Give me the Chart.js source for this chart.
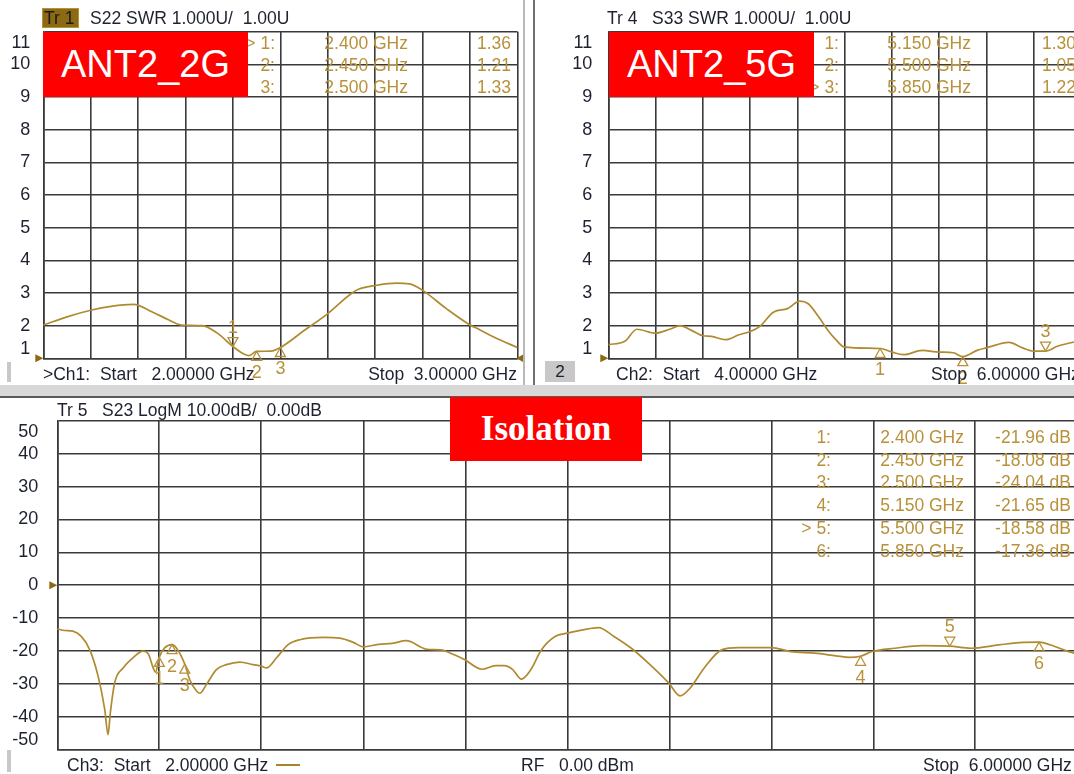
<!DOCTYPE html>
<html>
<head>
<meta charset="utf-8">
<script src="https://cdn.jsdelivr.net/npm/chart.js@4.4.1/dist/chart.umd.min.js"></script>
<style>
html, body { margin: 0; padding: 0; background: #fff; overflow: hidden; width: 1074px; height: 774px; font-family: Arial, "Liberation Sans", sans-serif; }
.abs { position: absolute; }
.gold { color: #b8913a; }
.txt { position: absolute; font-size: 17.5px; line-height: 20px; white-space: nowrap; color: #1e2230; }
.tbl { position: absolute; font-size: 17.5px; line-height: 20px; white-space: nowrap; color: #b8913a; text-align: right; }
.red { position: absolute; background: #ff0000; color: #fff; text-align: center; }
</style>
</head>
<body>
<div class="abs" style="left:0;top:0;width:530px;height:390px"><canvas id="c1"></canvas></div>
<div class="abs" style="left:530px;top:0;width:560px;height:390px"><canvas id="c2"></canvas></div>
<div class="abs" style="left:0;top:390px;width:1090px;height:384px"><canvas id="c3"></canvas></div>

<!-- window frame bits -->
<div class="abs" style="left:523px;top:0;width:2px;height:386px;background:#b8b8b8"></div>
<div class="abs" style="left:533px;top:0;width:2px;height:386px;background:#707070"></div>
<div class="abs" style="left:0;top:385px;width:1074px;height:11px;background:#d8d8d8"></div>
<div class="abs" style="left:0;top:396px;width:1074px;height:2px;background:#5a5a5a"></div>
<div class="abs" style="left:7px;top:362px;width:4px;height:20px;background:#c8c8c8"></div>
<div class="abs" style="left:7px;top:750px;width:4px;height:22px;background:#c8c8c8"></div>
<div class="abs" style="left:545px;top:361px;width:30px;height:21px;background:#c8c8c8;font-size:17px;line-height:21px;text-align:center;color:#1e2230">2</div>

<!-- headers -->
<div class="abs" style="left:42px;top:8px;width:37px;height:20px;background:#8c6a14;border:1px solid #b8913a;box-sizing:border-box"></div>
<div class="txt" style="left:44px;top:8px;color:#1a1a1a">Tr 1</div>
<div class="txt gold" style="left:90px;top:8px">S22 SWR 1.000U/&nbsp; 1.00U</div>
<div class="txt gold" style="left:607px;top:8px">Tr 4&nbsp;&nbsp; S33 SWR 1.000U/&nbsp; 1.00U</div>
<div class="txt gold" style="left:57px;top:400px">Tr 5&nbsp;&nbsp; S23 LogM 10.00dB/&nbsp; 0.00dB</div>

<!-- status lines -->
<div class="txt" style="left:43px;top:364px">&gt;Ch1:&nbsp; Start&nbsp;&nbsp; 2.00000 GHz</div>
<div class="txt" style="left:357px;top:364px;width:160px;text-align:right">Stop&nbsp; 3.00000 GHz</div>
<div class="txt" style="left:616px;top:364px">Ch2:&nbsp; Start&nbsp;&nbsp; 4.00000 GHz</div>
<div class="txt" style="left:931px;top:364px">Stop&nbsp; 6.00000 GHz</div>
<div class="txt" style="left:67px;top:755px">Ch3:&nbsp; Start&nbsp;&nbsp; 2.00000 GHz</div>
<div class="abs" style="left:276px;top:764px;width:24px;height:2px;background:#a8832c"></div>
<div class="txt" style="left:521px;top:755px">RF&nbsp;&nbsp; 0.00 dBm</div>
<div class="txt" style="left:923px;top:755px">Stop&nbsp; 6.00000 GHz</div>

<div id="tables"></div>

<!-- labels -->
<div class="red" style="left:43px;top:32px;width:205px;height:65px;font-size:38px;line-height:65px">ANT2_2G</div>
<div class="red" style="left:609px;top:32px;width:205px;height:65px;font-size:38px;line-height:65px">ANT2_5G</div>
<div class="red" style="left:450px;top:397px;width:192px;height:64px;font-size:35px;line-height:64px;font-weight:bold;font-family:'Liberation Serif','Times New Roman',serif">Isolation</div>

<script>
// S22 SWR, ANT2 2.4G band
var ant2gFreq = [2.00, 2.05, 2.10, 2.143, 2.19, 2.23, 2.265, 2.29, 2.335, 2.367, 2.40, 2.423, 2.433, 2.45, 2.48, 2.50, 2.55, 2.60, 2.651, 2.666, 2.70, 2.745, 2.772, 2.80, 2.85, 2.90, 2.921, 2.95, 3.00];
var ant2gSwr  = [2.02, 2.27, 2.47, 2.59, 2.65, 2.42, 2.17, 2.02, 2.00, 1.77, 1.36, 1.13, 1.08, 1.21, 1.22, 1.33, 1.85, 2.37, 3.00, 3.12, 3.23, 3.30, 3.28, 3.08, 2.52, 2.02, 1.87, 1.65, 1.33];
var ant2gMarkFreq = [2.400, 2.450, 2.500];
var ant2gMarkVal  = [1.36, 1.21, 1.33];

// S33 SWR, ANT2 5G band
var ant5gFreq = [4.00, 4.07, 4.121, 4.20, 4.26, 4.304, 4.348, 4.40, 4.436, 4.495, 4.553, 4.60, 4.64, 4.70, 4.758, 4.81, 4.846, 4.89, 4.933, 4.963, 5.00, 5.15, 5.20, 5.248, 5.328, 5.40, 5.46, 5.50, 5.563, 5.60, 5.695, 5.753, 5.80, 5.85, 5.90, 5.97, 6.00];
var ant5gSwr  = [1.42, 1.52, 1.89, 1.77, 1.89, 2.00, 1.87, 1.69, 1.67, 1.57, 1.72, 1.82, 1.97, 2.42, 2.52, 2.75, 2.67, 2.27, 1.82, 1.57, 1.34, 1.30, 1.19, 1.11, 1.24, 1.19, 1.17, 1.05, 1.25, 1.32, 1.49, 1.32, 1.22, 1.22, 1.37, 1.50, 1.55];
var ant5gMarkFreq = [5.150, 5.500, 5.850];
var ant5gMarkVal  = [1.30, 1.05, 1.22];

// S23 LogM isolation
var isoFreq = [2.00, 2.029, 2.061, 2.094, 2.127, 2.16, 2.186, 2.199, 2.208, 2.225, 2.258, 2.297, 2.336, 2.356, 2.376, 2.385, 2.40, 2.421, 2.45, 2.467, 2.50, 2.519, 2.546, 2.559, 2.585, 2.624, 2.663, 2.716, 2.768, 2.80, 2.82, 2.86, 2.905, 2.951, 3.043, 3.108, 3.161, 3.20, 3.259, 3.314, 3.368, 3.449, 3.503, 3.557, 3.60, 3.665, 3.719, 3.753, 3.786, 3.82, 3.857, 3.898, 3.952, 4.00, 4.061, 4.122, 4.183, 4.251, 4.319, 4.398, 4.442, 4.482, 4.537, 4.605, 4.672, 4.80, 4.876, 4.971, 5.053, 5.107, 5.15, 5.196, 5.284, 5.393, 5.50, 5.583, 5.692, 5.787, 5.85, 5.895, 5.988, 6.00];
var isoDb   = [-13.3, -13.8, -14.0, -15.6, -19.6, -27.7, -37.8, -45.5, -38.8, -29.7, -25.2, -22.1, -20.1, -20.8, -25.2, -26.5, -21.96, -19.1, -18.08, -19.1, -24.04, -28.7, -32.2, -32.9, -30.2, -25.7, -24.2, -23.4, -24.2, -24.6, -25.2, -22.1, -18.1, -16.6, -15.9, -16.1, -17.4, -18.8, -18.0, -17.7, -16.9, -19.5, -19.7, -21.2, -22.8, -25.6, -24.5, -24.5, -25.7, -28.6, -25.7, -19.7, -15.6, -14.6, -13.6, -12.9, -15.6, -19.2, -23.8, -29.8, -33.7, -31.3, -25.2, -19.7, -19.0, -19.0, -20.2, -20.7, -21.5, -22.0, -21.65, -20.2, -19.2, -18.4, -18.58, -19.2, -18.2, -17.4, -17.36, -18.2, -20.7, -20.8];
var isoMarkFreq = [2.400, 2.450, 2.500, 5.150, 5.500, 5.850];
var isoMarkVal  = [-21.96, -18.08, -24.04, -21.65, -18.58, -17.36];

var TRACE = '#b08a30';
var GOLD = '#b8913a';
var GRID = '#3a3a3a';

var vnaPlugin = {
  id: 'vna',
  afterDraw: function (chart, args, o) {
    var ctx = chart.ctx, xs = chart.scales.x, ys = chart.scales.y, a = chart.chartArea;
    ctx.save();
    // y axis numbers (end ones pulled inside like the analyser does)
    ctx.fillStyle = '#1e2230';
    ctx.font = '18px Arial, "Liberation Sans", sans-serif';
    ctx.textAlign = 'right';
    ctx.textBaseline = 'middle';
    ys.ticks.forEach(function (t) {
      var y = ys.getPixelForValue(t.value);
      if (t.value === ys.max) y += 11;
      if (t.value === ys.min) y -= 9;
      ctx.fillText(String(t.value), a.left - o.gap, y);
    });
    // reference arrows
    var ry = ys.getPixelForValue(o.ref);
    ctx.fillStyle = '#8c6a14';
    ctx.beginPath();
    ctx.moveTo(a.left, ry); ctx.lineTo(a.left - 8, ry - 4); ctx.lineTo(a.left - 8, ry + 4); ctx.closePath(); ctx.fill();
    if (o.rightArrow) {
      ctx.beginPath();
      ctx.moveTo(a.right - 1, ry); ctx.lineTo(a.right + 6, ry - 4); ctx.lineTo(a.right + 6, ry + 4); ctx.closePath(); ctx.fill();
    }
    // markers
    ctx.strokeStyle = GOLD;
    ctx.lineWidth = 1.3;
    ctx.textAlign = 'center';
    o.markFreq.forEach(function (f, i) {
      var x = xs.getPixelForValue(f), y = ys.getPixelForValue(o.markVal[i]);
      var down = (i === o.active);
      ctx.beginPath();
      if (down) { ctx.moveTo(x, y); ctx.lineTo(x - 5, y - 9); ctx.lineTo(x + 5, y - 9); }
      else { ctx.moveTo(x, y); ctx.lineTo(x - 5, y + 9); ctx.lineTo(x + 5, y + 9); }
      ctx.closePath();
      ctx.stroke();
      ctx.fillStyle = GOLD;
      ctx.fillText(String(i + 1), x, down ? y - 19 : y + 22);
    });
    ctx.restore();
  }
};

function makeChart(id, freq, vals, xmin, xmax, xstep, ymin, ymax, ystep, pad, deco) {
  var pts = freq.map(function (f, i) { return { x: f, y: vals[i] }; });
  return new Chart(document.getElementById(id).getContext('2d'), {
    type: 'line',
    data: { datasets: [{ data: pts, borderColor: TRACE, borderWidth: 1.7, pointRadius: 0, cubicInterpolationMode: 'monotone', fill: false }] },
    options: {
      responsive: true,
      maintainAspectRatio: false,
      animation: false,
      layout: { padding: pad },
      plugins: { legend: { display: false }, tooltip: { enabled: false }, vna: deco },
      scales: {
        x: { type: 'linear', min: xmin, max: xmax, ticks: { display: false, stepSize: xstep },
             grid: { color: GRID, lineWidth: 1.6, drawTicks: false }, border: { color: GRID, width: 1.6 } },
        y: { type: 'linear', min: ymin, max: ymax, ticks: { display: false, stepSize: ystep },
             grid: { color: GRID, lineWidth: 1.6, drawTicks: false }, border: { color: GRID, width: 1.6 } }
      }
    },
    plugins: [vnaPlugin]
  });
}

makeChart('c1', ant2gFreq, ant2gSwr, 2, 3, 0.1, 1, 11, 1,
  { left: 43.3, top: 31.7, right: 12.5, bottom: 31.7 },
  { gap: 13, ref: 1, rightArrow: true, markFreq: ant2gMarkFreq, markVal: ant2gMarkVal, active: 0 });
makeChart('c2', ant5gFreq, ant5gSwr, 4, 6, 0.2, 1, 11, 1,
  { left: 78.3, top: 31.7, right: 9, bottom: 31.7 },
  { gap: 16, ref: 1, rightArrow: false, markFreq: ant5gMarkFreq, markVal: ant5gMarkVal, active: 2 });
makeChart('c3', isoFreq, isoDb, 2, 6, 0.4, -50, 50, 10,
  { left: 57.3, top: 31, right: 12.7, bottom: 24.6 },
  { gap: 19, ref: 0, rightArrow: false, markFreq: isoMarkFreq, markVal: isoMarkVal, active: 4 });

// marker tables, built from the marker arrays
function table(markFreq, markVal, unit, active, top, xNum, xFreq, xVal, rowH) {
  var html = '';
  markFreq.forEach(function (f, i) {
    var y = top + i * rowH - 10;
    html += '<div class="tbl" style="left:' + (xNum - 60) + 'px;top:' + y + 'px;width:60px">' + (i === active ? '&gt; ' : '') + (i + 1) + ':</div>';
    html += '<div class="tbl" style="left:' + (xFreq - 120) + 'px;top:' + y + 'px;width:120px">' + f.toFixed(3) + ' GHz</div>';
    html += '<div class="tbl" style="left:' + (xVal - 120) + 'px;top:' + y + 'px;width:120px">' + markVal[i].toFixed(2) + unit + '</div>';
  });
  return html;
}
document.getElementById('tables').innerHTML =
  table(ant2gMarkFreq, ant2gMarkVal, '', 0, 43, 275, 408, 511, 22) +
  table(ant5gMarkFreq, ant5gMarkVal, '', 2, 43, 839, 971, 1076, 22) +
  table(isoMarkFreq, isoMarkVal, ' dB', 4, 437, 831, 964, 1071, 22.7);
</script>
</body>
</html>
